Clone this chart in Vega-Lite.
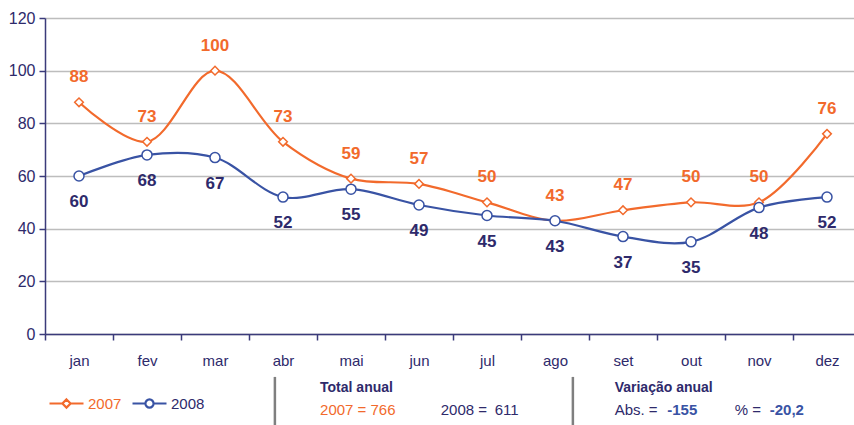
{
  "$schema": "https://vega.github.io/schema/vega-lite/v6.json",
  "width": 809,
  "height": 316,
  "autosize": {"type": "none"},
  "padding": {"left": 45, "top": 18, "right": 0, "bottom": 91},
  "background": "white",
  "config": {
    "view": {"stroke": null},
    "font": "Liberation Sans",
    "text": {"font": "Liberation Sans"}
  },
  "datasets": {
    "main": [
      {"mes": "jan", "serie": "2007", "valor": 88}, {"mes": "fev", "serie": "2007", "valor": 73},
      {"mes": "mar", "serie": "2007", "valor": 100}, {"mes": "abr", "serie": "2007", "valor": 73},
      {"mes": "mai", "serie": "2007", "valor": 59}, {"mes": "jun", "serie": "2007", "valor": 57},
      {"mes": "jul", "serie": "2007", "valor": 50}, {"mes": "ago", "serie": "2007", "valor": 43},
      {"mes": "set", "serie": "2007", "valor": 47}, {"mes": "out", "serie": "2007", "valor": 50},
      {"mes": "nov", "serie": "2007", "valor": 50}, {"mes": "dez", "serie": "2007", "valor": 76},
      {"mes": "jan", "serie": "2008", "valor": 60}, {"mes": "fev", "serie": "2008", "valor": 68},
      {"mes": "mar", "serie": "2008", "valor": 67}, {"mes": "abr", "serie": "2008", "valor": 52},
      {"mes": "mai", "serie": "2008", "valor": 55}, {"mes": "jun", "serie": "2008", "valor": 49},
      {"mes": "jul", "serie": "2008", "valor": 45}, {"mes": "ago", "serie": "2008", "valor": 43},
      {"mes": "set", "serie": "2008", "valor": 37}, {"mes": "out", "serie": "2008", "valor": 35},
      {"mes": "nov", "serie": "2008", "valor": 48}, {"mes": "dez", "serie": "2008", "valor": 52}
    ],
    "sep": [{"pos": 3.41, "y1": -16.3, "y2": -34.6}, {"pos": 7.83, "y1": -16.3, "y2": -34.6}],
    "heads": [{"pos": 4.08, "yv": -20.5, "t": "Total anual"}, {"pos": 8.45, "yv": -20.5, "t": "Variação anual"}],
    "orange": [{"pos": 4.08, "yv": -28.9, "t": "2007 = 766"}],
    "navy": [{"pos": 5.87, "yv": -28.9, "t": "2008 ="}, {"pos": 6.67, "yv": -28.9, "t": "611"}, {"pos": 8.45, "yv": -28.9, "t": "Abs. ="}, {"pos": 10.23, "yv": -28.9, "t": "% ="}],
    "blue": [{"pos": 9.23, "yv": -28.9, "t": "-155"}, {"pos": 10.75, "yv": -28.9, "t": "-20,2"}]
  },
  "resolve": {"scale": {"x": "independent"}, "axis": {"x": "independent"}},
  "layer": [
    {
      "layer": [
        {
          "data": {"name": "main"},
          "mark": {"type": "line", "interpolate": "catmull-rom", "strokeWidth": 2.2},
          "encoding": {
            "x": {
              "field": "mes", "type": "ordinal", "sort": null,
              "scale": {"paddingInner": 0, "paddingOuter": 0, "range": [0, 816]},
              "axis": {
                "title": null, "labelAngle": 0, "labelFontSize": 15, "labelColor": "#2E2A6B",
                "labelFont": "Liberation Sans",
                "domainColor": "#3B3B7A", "domainWidth": 1.5, "tickColor": "#3B3B7A", "tickWidth": 1.5,
                "tickSize": 6, "tickBand": "extent", "labelPadding": 13, "grid": false
              }
            },
            "y": {
              "field": "valor", "type": "quantitative",
              "scale": {"domain": [0, 120], "nice": false},
              "axis": {
                "title": null, "values": [0, 20, 40, 60, 80, 100, 120], "labelFontSize": 16,
                "labelColor": "#2E2A6B", "labelFont": "Liberation Sans",
                "domainColor": "#3B3B7A", "domainWidth": 1.5, "tickColor": "#3B3B7A", "tickWidth": 1.5,
                "tickSize": 6, "labelPadding": 4, "grid": true, "gridColor": "#BDBDBD", "gridWidth": 1.5
              }
            },
            "color": {
              "field": "serie", "type": "nominal",
              "scale": {"domain": ["2007", "2008"], "range": ["#F26A2C", "#3953A4"]},
              "legend": {
                "orient": "none", "legendX": 3, "legendY": 367, "direction": "horizontal", "title": null,
                "padding": 0, "symbolSize": 1156, "symbolStrokeWidth": 2.2, "labelFontSize": 15,
                "labelFont": "Liberation Sans", "columnPadding": 6, "labelOffset": 3,
                "symbolType": "M-1,0H-0.24M0.24,0H1M0,-0.24L0.24,0L0,0.24L-0.24,0Z",
                "encode": {
                  "symbols": {"update": {
                    "shape": {"signal": "datum.value === '2007' ? 'M-1,0H-0.24M0.24,0H1M0,-0.24L0.24,0L0,0.24L-0.24,0Z' : 'M-1,0H-0.24M0.24,0H1M-0.24,0A0.24,0.24,0,1,0,0.24,0A0.24,0.24,0,1,0,-0.24,0Z'"},
                    "fill": {"value": "white"},
                    "strokeWidth": {"value": 2.2}
                  }},
                  "labels": {"update": {
                    "fill": {"signal": "datum.value === '2007' ? '#F26A2C' : '#2E2A6B'"}
                  }}
                }
              }
            }
          }
        },
        {
          "data": {"name": "main"},
          "transform": [{"filter": "datum.serie === '2007'"}],
          "mark": {"type": "point", "shape": "diamond", "size": 75, "filled": true, "fill": "white", "stroke": "#F26A2C", "strokeWidth": 1.5, "opacity": 1},
          "encoding": {
            "x": {"field": "mes", "type": "ordinal", "sort": null},
            "y": {"field": "valor", "type": "quantitative", "scale": {"domain": [0, 120], "nice": false}}
          }
        },
        {
          "data": {"name": "main"},
          "transform": [{"filter": "datum.serie === '2008'"}],
          "mark": {"type": "point", "shape": "circle", "size": 100, "filled": true, "fill": "white", "stroke": "#3953A4", "strokeWidth": 1.5, "opacity": 1},
          "encoding": {
            "x": {"field": "mes", "type": "ordinal", "sort": null},
            "y": {"field": "valor", "type": "quantitative", "scale": {"domain": [0, 120], "nice": false}}
          }
        },
        {
          "data": {"name": "main"},
          "transform": [{"filter": "datum.serie === '2007'"}],
          "mark": {"type": "text", "dy": -25, "fontSize": 17, "fontWeight": "bold", "color": "#F26A2C", "baseline": "middle"},
          "encoding": {
            "x": {"field": "mes", "type": "ordinal", "sort": null},
            "y": {"field": "valor", "type": "quantitative", "scale": {"domain": [0, 120], "nice": false}},
            "text": {"field": "valor", "type": "quantitative"}
          }
        },
        {
          "data": {"name": "main"},
          "transform": [{"filter": "datum.serie === '2008'"}],
          "mark": {"type": "text", "dy": 26, "fontSize": 17, "fontWeight": "bold", "color": "#2E2A6B", "baseline": "middle"},
          "encoding": {
            "x": {"field": "mes", "type": "ordinal", "sort": null},
            "y": {"field": "valor", "type": "quantitative", "scale": {"domain": [0, 120], "nice": false}},
            "text": {"field": "valor", "type": "quantitative"}
          }
        }
      ]
    },
    {
      "layer": [
        {
          "data": {"name": "sep"},
          "mark": {"type": "rule", "color": "#7F7F7F", "strokeWidth": 2.5},
          "encoding": {
            "x": {"field": "pos", "type": "quantitative", "scale": {"domain": [0, 12]}, "axis": null},
            "y": {"field": "y1", "type": "quantitative", "scale": {"domain": [0, 120], "nice": false}},
            "y2": {"field": "y2"}
          }
        },
        {
          "data": {"name": "heads"},
          "mark": {"type": "text", "align": "left", "baseline": "middle", "fontSize": 14, "fontWeight": "bold", "color": "#2E2A6B"},
          "encoding": {
            "x": {"field": "pos", "type": "quantitative", "scale": {"domain": [0, 12]}, "axis": null},
            "y": {"field": "yv", "type": "quantitative", "scale": {"domain": [0, 120], "nice": false}},
            "text": {"field": "t"}
          }
        },
        {
          "data": {"name": "orange"},
          "mark": {"type": "text", "align": "left", "baseline": "middle", "fontSize": 15, "color": "#F26A2C"},
          "encoding": {
            "x": {"field": "pos", "type": "quantitative", "scale": {"domain": [0, 12]}, "axis": null},
            "y": {"field": "yv", "type": "quantitative", "scale": {"domain": [0, 120], "nice": false}},
            "text": {"field": "t"}
          }
        },
        {
          "data": {"name": "navy"},
          "mark": {"type": "text", "align": "left", "baseline": "middle", "fontSize": 15, "color": "#2E2A6B"},
          "encoding": {
            "x": {"field": "pos", "type": "quantitative", "scale": {"domain": [0, 12]}, "axis": null},
            "y": {"field": "yv", "type": "quantitative", "scale": {"domain": [0, 120], "nice": false}},
            "text": {"field": "t"}
          }
        },
        {
          "data": {"name": "blue"},
          "mark": {"type": "text", "align": "left", "baseline": "middle", "fontSize": 15, "fontWeight": "bold", "color": "#3953A4"},
          "encoding": {
            "x": {"field": "pos", "type": "quantitative", "scale": {"domain": [0, 12]}, "axis": null},
            "y": {"field": "yv", "type": "quantitative", "scale": {"domain": [0, 120], "nice": false}},
            "text": {"field": "t"}
          }
        }
      ]
    }
  ]
}
